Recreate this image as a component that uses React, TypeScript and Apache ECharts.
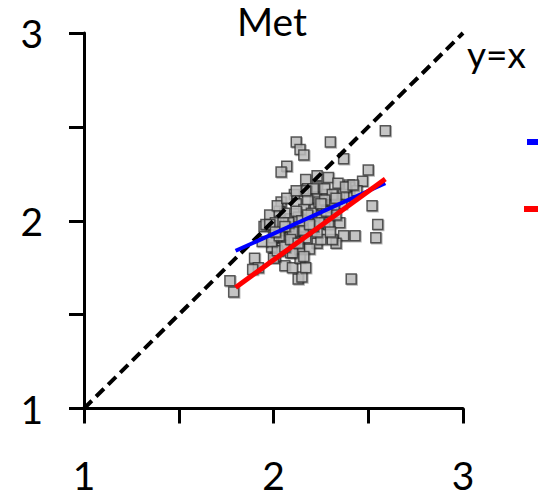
import React, { useEffect, useRef } from "react";
import * as echarts from "echarts";

const titleText = "Met";
const identityLabel = "y=x";
const axisMin = 1;
const axisMax = 3;
const tickStep = 0.5;

// scatter points [x, y]
const pointsX = [
  2.12, 2.14, 2.16, 2.30, 2.59, 2.37, 2.07, 2.04, 2.50, 2.23, 2.29, 2.17, 2.34, 2.40, 2.47, 2.40,
  2.52, 2.55, 2.54, 2.43, 2.37, 2.41, 1.77, 1.79, 1.90, 1.92, 2.13, 2.15, 2.06, 2.10, 2.14, 2.17,
  2.01, 2.03, 2.09, 2.00, 2.33, 2.31, 2.23, 2.25, 2.35, 2.05, 1.99, 1.95, 1.98, 2.04, 2.11, 2.18,
  2.23, 2.28, 2.22, 2.12, 2.03, 2.09, 2.14, 2.19, 2.25, 2.31, 2.36, 2.40, 2.44, 2.27, 2.20, 2.11,
  2.03, 2.00, 2.07, 2.14, 2.19, 2.02, 2.10, 2.16, 1.94, 1.99, 2.06, 2.11, 2.17, 1.96, 2.01, 2.08,
  2.29, 2.03, 2.10, 2.16, 2.23, 2.30, 1.89, 2.21, 2.27, 2.31, 2.18, 2.37, 2.17, 2.16, 2.22, 2.32,
  2.06, 1.98, 2.13, 2.08, 2.24, 2.12, 2.05, 2.20, 2.26, 2.33, 2.09, 2.15, 2.21, 2.28,
  2.02, 2.07, 2.12, 2.18, 2.24, 2.27, 2.33, 2.38, 2.42, 2.01, 2.06, 2.13, 2.19, 2.25,
];
const pointsY = [
  2.42, 2.38, 2.35, 2.42, 2.48, 2.33, 2.29, 2.26, 2.27, 2.24, 2.23, 2.22, 2.20, 2.19, 2.21, 2.18,
  2.08, 1.98, 1.91, 1.92, 1.92, 1.69, 1.68, 1.62, 1.80, 1.75, 1.69, 1.70, 1.76, 1.75, 1.80, 1.75,
  1.81, 1.84, 1.83, 1.80, 1.88, 1.90, 1.88, 1.90, 1.99, 1.91, 1.86, 1.97, 2.03, 2.10, 2.14, 2.17,
  2.18, 2.14, 2.12, 2.09, 2.05, 2.01, 1.97, 2.01, 2.03, 2.07, 2.09, 2.13, 2.16, 1.99, 1.95, 1.94,
  1.95, 1.91, 1.87, 1.85, 1.85, 1.84, 1.83, 1.81, 1.89, 1.89, 1.86, 1.89, 1.91, 1.98, 1.99, 1.97,
  1.98, 1.92, 1.94, 1.95, 1.94, 1.94, 1.74, 2.17, 2.17, 2.14, 2.11, 2.14, 2.16, 2.06, 2.06, 2.08,
  2.04, 1.98, 2.02, 1.99, 2.10, 2.05, 1.99, 2.04, 2.08, 2.03, 1.90, 2.00, 1.97, 2.05,
  2.08, 2.12, 2.16, 2.03, 1.99, 2.11, 2.12, 2.18, 2.19, 1.94, 1.97, 1.88, 1.98, 2.09,
];

// fitted lines: [x, y] end points
const blueFitX = [1.8, 2.59];
const blueFitY = [1.84, 2.2];
const redFitX = [1.8, 2.59];
const redFitY = [1.645, 2.222];
const identityX = [1, 3];
const identityY = [1, 3];

const FONT = "Lato";

export default function App() {
  const ref = useRef<HTMLDivElement>(null);
  useEffect(() => {
    if (!ref.current) return;
    const chart = echarts.init(ref.current, undefined, { renderer: "svg" });
    const pts = pointsX.map((x, i) => [x, pointsY[i]]);
    const axisCommon = {
      type: "value" as const,
      min: axisMin,
      max: axisMax,
      interval: tickStep,
      splitLine: { show: false },
      axisLine: { show: true, onZero: false, lineStyle: { color: "#000", width: 3 } },
      axisTick: { show: true, inside: false, length: 15, lineStyle: { color: "#000", width: 3 } },
    };
    chart.setOption({
      animation: false,
      backgroundColor: "#fff",
      grid: { left: 84, right: 75, top: 33, bottom: 84, containLabel: false },
      xAxis: {
        ...axisCommon,
        axisLabel: {
          margin: 51,
          fontFamily: FONT,
          fontSize: 39,
          lineHeight: 30,
          color: "#000",
          formatter: (v: number) => (Number.isInteger(v) ? String(v) : ""),
        },
      },
      yAxis: {
        ...axisCommon,
        axisLabel: {
          margin: 41,
          fontFamily: FONT,
          fontSize: 39,
          lineHeight: 30,
          color: "#000",
          formatter: (v: number) => (Number.isInteger(v) ? String(v) : ""),
        },
      },
      series: [
        {
          type: "scatter",
          data: pts,
          symbol: "rect",
          symbolSize: 10,
          itemStyle: {
            color: "#c0c0c0",
            borderColor: "#333",
            borderWidth: 1.5,
            shadowColor: "rgba(0,0,0,0.35)",
            shadowBlur: 1,
            shadowOffsetX: 1,
            shadowOffsetY: 1,
          },
          z: 2,
        },
        {
          type: "line",
          data: identityX.map((x, i) => [x, identityY[i]]),
          symbol: "none",
          lineStyle: { color: "#000", width: 4, type: [11, 6] },
          z: 3,
        },
        {
          type: "line",
          data: blueFitX.map((x, i) => [x, blueFitY[i]]),
          symbol: "none",
          lineStyle: { color: "#0000ff", width: 4 },
          z: 4,
        },
        {
          type: "line",
          data: redFitX.map((x, i) => [x, redFitY[i]]),
          symbol: "none",
          lineStyle: { color: "#ff0000", width: 5 },
          z: 5,
        },
      ],
      graphic: [
        {
          type: "text",
          x: 272,
          y: 21,
          style: {
            text: titleText,
            fontFamily: FONT,
            fontSize: 39,
            lineHeight: 32,
            fill: "#000",
            align: "center",
            verticalAlign: "middle",
          },
        },
        {
          type: "text",
          x: 467,
          y: 53,
          style: {
            text: identityLabel,
            fontFamily: FONT,
            fontSize: 37,
            lineHeight: 34,
            fill: "#000",
            align: "left",
            verticalAlign: "middle",
          },
        },
        {
          type: "line",
          shape: { x1: 527, y1: 142, x2: 540, y2: 142 },
          style: { stroke: "#0000ff", lineWidth: 6 },
        },
        {
          type: "line",
          shape: { x1: 524, y1: 209, x2: 540, y2: 209 },
          style: { stroke: "#ff0000", lineWidth: 6 },
        },
      ],
    });
    return () => chart.dispose();
  }, []);
  return <div ref={ref} style={{ width: 538, height: 494, position: "absolute", left: 0, top: 0 }} />;
}
